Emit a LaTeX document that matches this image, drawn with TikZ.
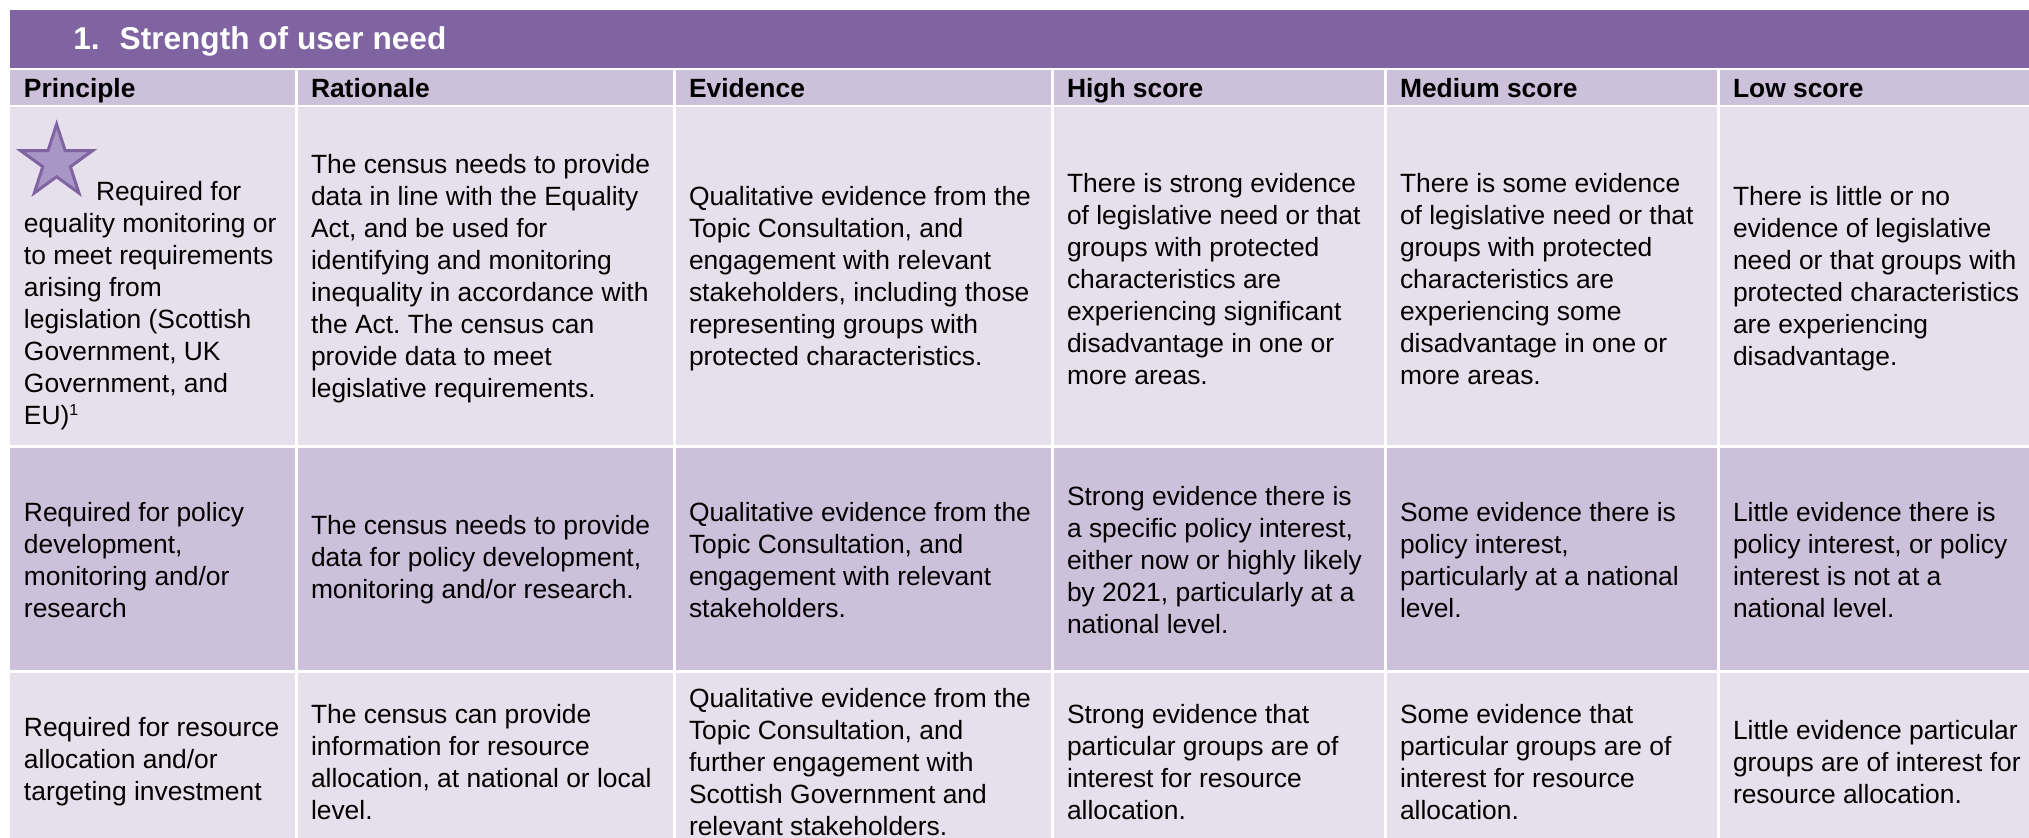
\documentclass[tikz,border=0pt]{standalone}
\usepackage{fontspec}
\setmainfont{Liberation Sans}
\usetikzlibrary{shapes.geometric}
\definecolor{bandpurple}{HTML}{8064A2}
\definecolor{lilac}{HTML}{CCC0DA}
\definecolor{palelilac}{HTML}{E5E0EC}
\definecolor{starlilac}{HTML}{A896C6}
\frenchspacing

\begin{document}
\begin{tikzpicture}[x=0.5pt, y=-0.5pt,
    cell text/.style={anchor=west, align=left, inner sep=0pt, outer sep=0pt, font=\fontsize{13.2}{16}\selectfont},
    head text/.style={cell text, anchor=base west, font=\fontsize{13.2}{16}\selectfont\bfseries},
    star mark/.style={star, star points=5, star point ratio=2.618, minimum size=38pt, inner sep=0pt, outer sep=0pt, fill=starlilac, draw=bandpurple, line width=1.5pt}]

\useasboundingbox (0,0) rectangle (2029,838);
\fill[white] (0,0) rectangle (2029,838);
\fill[bandpurple] (10,10) rectangle (2029,68);
% cell backgrounds
\foreach \top/\bot/\bg in {70/105/lilac,107/445/palelilac,448/670/lilac,673/849/palelilac}
    \foreach \lft/\rgt in {10/295,298/673,676/1051,1054/1384,1387/1717,1720/2029}
        \fill[\bg] (\lft,\top) rectangle (\rgt,\bot);

\node[anchor=base west, inner sep=0pt, text=white, font=\fontsize{15.8}{18}\selectfont\bfseries] (title) at (73,50) {1.\hspace{10pt}Strength of user need};

% header row
\foreach \x/\txt [count=\i] in {24/Principle,311/Rationale,689/Evidence,1067/High score,1400/Medium score,1733/Low score}
    \node[head text] (head\i) at (\x,98) {\txt};

% row 1
\node[cell text] (p1) at (24,277) {\rule{0pt}{38pt}\hspace*{36pt}Required for\\equality monitoring or\\to meet requirements\\arising from\\legislation (Scottish\\Government, UK\\Government, and\\EU)\textsuperscript{\fontsize{8}{8}\selectfont 1}};
\node[star mark, anchor=north] (star) at ([xshift=16.3pt]p1.north west) {};
\node[cell text] (r1) at (311,279) {The census needs to provide\\data in line with the Equality\\Act, and be used for\\identifying and monitoring\\inequality in accordance with\\the Act. The census can\\provide data to meet\\legislative requirements.};
\node[cell text] (e1) at (689,279) {Qualitative evidence from the\\Topic Consultation, and\\engagement with relevant\\stakeholders, including those\\representing groups with\\protected characteristics.};
\node[cell text] (hi1) at (1067,279) {There is strong evidence\\of legislative need or that\\groups with protected\\characteristics are\\experiencing significant\\disadvantage in one or\\more areas.};
\node[cell text] (md1) at (1400,279) {There is some evidence\\of legislative need or that\\groups with protected\\characteristics are\\experiencing some\\disadvantage in one or\\more areas.};
\node[cell text] (lo1) at (1733,279) {There is little or no\\evidence of legislative\\need or that groups with\\protected characteristics\\are experiencing\\disadvantage.};

% row 2
\node[cell text] (p2) at (24,560) {Required for policy\\development,\\monitoring and/or\\research};
\node[cell text] (r2) at (311,560) {The census needs to provide\\data for policy development,\\monitoring and/or research.};
\node[cell text] (e2) at (689,560) {Qualitative evidence from the\\Topic Consultation, and\\engagement with relevant\\stakeholders.};
\node[cell text] (hi2) at (1067,560) {Strong evidence there is\\a specific policy interest,\\either now or highly likely\\by 2021, particularly at a\\national level.};
\node[cell text] (md2) at (1400,560) {Some evidence there is\\policy interest,\\particularly at a national\\level.};
\node[cell text] (lo2) at (1733,560) {Little evidence there is\\policy interest, or policy\\interest is not at a\\national level.};

% row 3
\node[cell text] (p3) at (24,762) {Required for resource\\allocation and/or\\targeting investment};
\node[cell text] (r3) at (311,762) {The census can provide\\information for resource\\allocation, at national or local\\level.};
\node[cell text] (e3) at (689,762) {Qualitative evidence from the\\Topic Consultation, and\\further engagement with\\Scottish Government and\\relevant stakeholders.};
\node[cell text] (hi3) at (1067,762) {Strong evidence that\\particular groups are of\\interest for resource\\allocation.};
\node[cell text] (md3) at (1400,762) {Some evidence that\\particular groups are of\\interest for resource\\allocation.};
\node[cell text] (lo3) at (1733,762) {Little evidence particular\\groups are of interest for\\resource allocation.};
\end{tikzpicture}
\end{document}
